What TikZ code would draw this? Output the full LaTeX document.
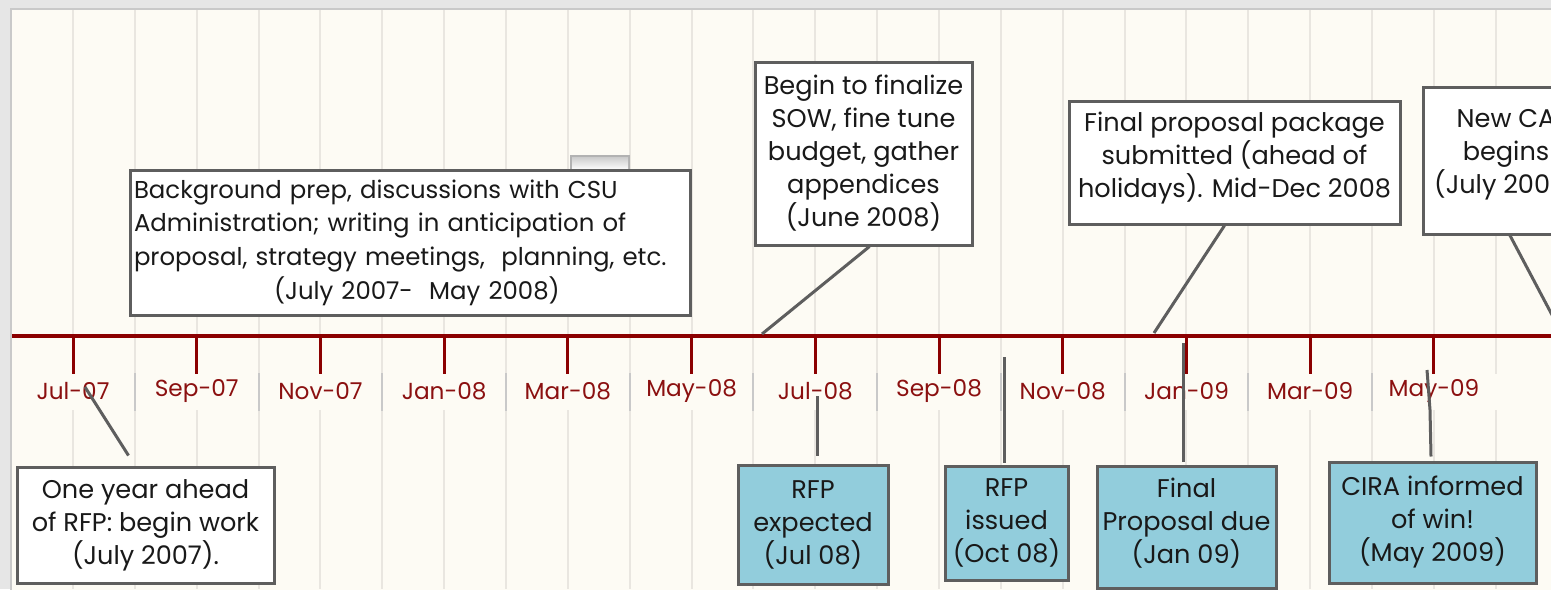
\documentclass[tikz,border=0pt]{standalone}
\usepackage{fontspec}
\setmainfont{Poppins}
\usetikzlibrary{positioning}

\definecolor{outergray}{HTML}{E6E6E6}
\definecolor{cream}{HTML}{FDFBF4}
\definecolor{gridgray}{HTML}{E9E6E0}
\definecolor{sepgray}{HTML}{C9C9C9}
\definecolor{axisred}{HTML}{8B0000}
\definecolor{labelred}{HTML}{8B1010}
\definecolor{edgegray}{HTML}{5E5E5E}
\definecolor{eventblue}{HTML}{92CDDC}

\tikzset{
  note/.style={draw=edgegray, line width=1.5pt, fill=white, align=center,
    font=\fontsize{12.8}{16.5}\selectfont, text=black!90, inner sep=2pt},
  event/.style={note, fill=eventblue},
  month/.style={font=\fontsize{11.6}{13}\selectfont, text=labelred},
  callout/.style={draw=edgegray, line width=1.5pt}
}

\begin{document}
\begin{tikzpicture}[x=0.5pt,y=-0.5pt]
	\useasboundingbox (0,0) rectangle (1551,589);
	\begin{scope}
	\clip (0,0) rectangle (1551,589);
	% background
	\fill[outergray] (0,0) rectangle (1551,589);
	\fill[cream] (12,10) rectangle (1560,600);
	\draw[sepgray, line width=1pt] (11,600) -- (11,9) -- (1560,9);
	\foreach \k in {0,...,24}
		\draw[gridgray, line width=1pt] ({73+61.86*\k},10) -- ({73+61.86*\k},589);
	\fill[cream] (12,374) rectangle (1560,410);
	\foreach \k in {1,3,...,21}
		\draw[sepgray, line width=1pt] ({73+61.86*\k},373) -- ({73+61.86*\k},411);
	\fill[gray!60] (570,155) rectangle (630,170);
	\shade[top color=gray!40, bottom color=white] (572,157) rectangle (628,170);

	% time axis
	\draw[axisred, line width=2pt] (12,336) -- (1560,336);
	\foreach \m [count=\i from 0] in {Jul-07,Sep-07,Nov-07,Jan-08,Mar-08,May-08,Jul-08,Sep-08,Nov-08,Jan-09,Mar-09,May-09} {
		\draw[axisred, line width=1.5pt] ({73+123.72*\i},336) -- ({73+123.72*\i},374);
		\node[month] (m\i) at ({73+123.72*\i},391) {\m};
	}

	% points on the axis
	\coordinate (jun08) at (762,334);
	\coordinate (dec08) at (1154,333);
	\coordinate (jul09) at (1560,330);
	\coordinate (jul07) at (85,387);
	\coordinate (jul08) at (817,396);
	\coordinate (oct08) at (1004,357);
	\coordinate (jan09) at (1183,343);
	\coordinate (may09) at (1427,370);

	% notes above
	\node[note, align=left, text width=276pt, font=\fontsize{12.2}{16.8}\selectfont, minimum height=72.5pt] (prep) at (410,242.5)
		{Background prep, discussions with CSU\\ Administration; writing in anticipation of\\ proposal, strategy meetings,\ \ planning, etc.\\
		\hspace*{70pt}(July 2007-\ \ May 2008)};
	\node[note, minimum width=108.5pt, minimum height=91.5pt] (sow) at (863.5,153.5)
		{Begin to finalize\\ SOW, fine tune\\ budget, gather\\ appendices\\ (June 2008)};
	\node[note, minimum width=165.5pt, minimum height=61.5pt, text depth=8pt] (final) at (1234.5,162.5)
		{Final proposal package\\ submitted\ (ahead\ of\\ holidays). Mid-Dec 2008};
	\node[note, minimum width=83pt, minimum height=73.5pt, text depth=9pt] (newca) at (1506,160.5)
		{New CA\\ begins\\ (July 2009)};

	% notes below
	\node[note, minimum width=128.5pt, minimum height=58pt] (ahead) at (145.5,525)
		{One year ahead\\ of RFP: begin work\\ (July 2007).};
	\node[event, minimum width=75pt, minimum height=59.5pt] (expected) at (813,524.5)
		{RFP\\ expected\\ (Jul 08)};
	\node[event, minimum width=61.5pt, minimum height=57pt] (issued) at (1006.5,523)
		{RFP\\ issued\\ (Oct 08)};
	\node[event, minimum width=89.5pt, minimum height=61pt, text depth=7pt] (due) at (1186.5,527.5)
		{Final\\ Proposal due\\ (Jan 09)};
	\node[event, minimum width=103.5pt, minimum height=60.5pt] (win) at (1432.5,522.5)
		{CIRA informed\\ of win!\\ (May 2009)};

	% connectors
	\draw[callout] (sow.south) ++(6,0) -- (jun08);
	\draw[callout] (final.south) ++(-10,0) -- (dec08);
	\draw[callout] (newca.south) ++(4,0) -- (jul09);
	\draw[callout] (ahead.north) ++(-17,-10) -- (jul07);
	\draw[callout] (expected.north) ++(4,-8) -- (jul08);
	\draw[callout] (issued.north) ++(-2.5,-2) -- (oct08);
	\draw[callout] (due.north) ++(-3.5,-3) -- (jan09);
	\draw[callout] (win.north) ++(-1.5,-4) -- (1430,410) -- (may09);
	\end{scope}
\end{tikzpicture}
\end{document}
